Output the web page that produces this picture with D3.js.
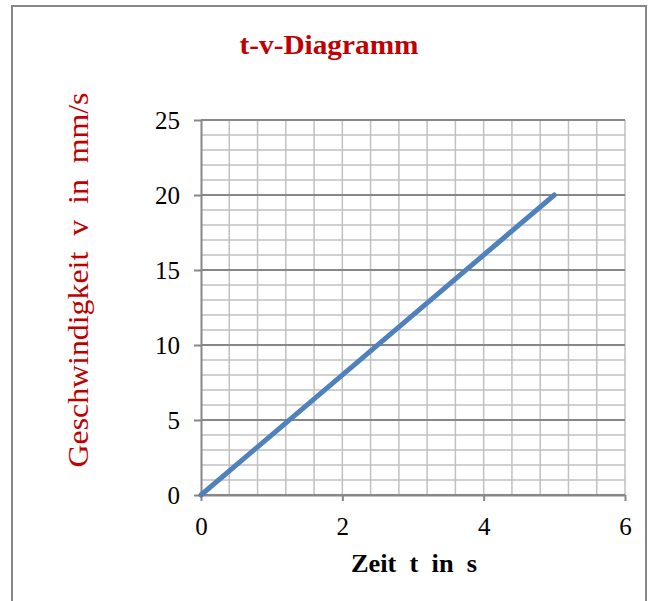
<!DOCTYPE html>
<html>
<head>
<meta charset="utf-8">
<script src="https://cdn.jsdelivr.net/npm/d3@7"></script>
<style>
  body { margin: 0; background: #fff; }
  svg text { font-family: "Times New Roman", "Liberation Serif", serif; }
</style>
</head>
<body>
<div class="canvas"></div>
<script>
// DATA ---------------------------------------------------------------------------
const zeit = [0, 5];                        // t in s
const geschwindigkeit = [0, 20];            // v in mm/s
const xTicks = [0, 2, 4, 6];
const yTicks = [0, 5, 10, 15, 20, 25];
const xMinorStep = 0.4;
const yMinorStep = 1;

// SET UP -------------------------------------------------------------------------
const svg = d3.select('.canvas')
    .append('svg')
        .attr('width', 654)
        .attr('height', 601);

// outer chart frame
svg.append('rect')
    .attr('x', 12)
    .attr('y', 6)
    .attr('width', 634)
    .attr('height', 610)
    .attr('fill', 'none')
    .attr('stroke', '#878787')
    .attr('stroke-width', 2);

const x = d3.scaleLinear().domain([0, 6]).range([201, 625]);
const y = d3.scaleLinear().domain([0, 25]).range([495, 120]);

const grid = svg.append('g');

// minor gridlines
const xMinor = d3.range(0, 6 + 1e-9, xMinorStep).slice(1);
const yMinor = d3.range(0, 25 + 1e-9, yMinorStep).filter(d => d % 5 !== 0);

grid.selectAll('.vminor')
    .data(xMinor)
    .enter().append('line')
        .attr('x1', d => x(d)).attr('x2', d => x(d))
        .attr('y1', y(0)).attr('y2', y(25))
        .attr('stroke', '#c0c0c0')
        .attr('stroke-width', 1.5);

grid.selectAll('.hminor')
    .data(yMinor)
    .enter().append('line')
        .attr('x1', x(0)).attr('x2', x(6))
        .attr('y1', d => y(d)).attr('y2', d => y(d))
        .attr('stroke', '#c0c0c0')
        .attr('stroke-width', 1.5);

// major horizontal gridlines
grid.selectAll('.hmajor')
    .data(yTicks)
    .enter().append('line')
        .attr('x1', x(0)).attr('x2', x(6))
        .attr('y1', d => y(d)).attr('y2', d => y(d))
        .attr('stroke', '#878787')
        .attr('stroke-width', 2);

// AXES ---------------------------------------------------------------------------
const yAxis = d3.axisLeft(y).tickValues(yTicks).tickFormat(d3.format('d'))
    .tickSize(7).tickPadding(14).tickSizeOuter(0);
const xAxis = d3.axisBottom(x).tickValues(xTicks).tickFormat(d3.format('d'))
    .tickSize(6).tickPadding(16).tickSizeOuter(0);

const yAxisGroup = svg.append('g')
    .attr('transform', `translate(${x(0)}, 0)`)
    .call(yAxis);
const xAxisGroup = svg.append('g')
    .attr('transform', `translate(0, ${y(0)})`)
    .call(xAxis);

[xAxisGroup, yAxisGroup].forEach(g => {
    g.select('.domain').attr('stroke', '#878787').attr('stroke-width', 2);
    g.selectAll('.tick line').attr('stroke', '#878787').attr('stroke-width', 2);
    g.selectAll('text')
        .attr('fill', '#000')
        .style('font-size', '25px')
        .style('font-family', '"Times New Roman", "Liberation Serif", serif');
});

// LINE ---------------------------------------------------------------------------
const points = zeit.map((t, i) => ({ t: t, v: geschwindigkeit[i] }));
const line = d3.line().x(d => x(d.t)).y(d => y(d.v));

svg.append('path')
    .datum(points)
    .attr('d', line)
    .attr('fill', 'none')
    .attr('stroke', '#4f81bd')
    .attr('stroke-width', 5)
    .attr('stroke-linecap', 'round');

// TITLES -------------------------------------------------------------------------
svg.append('text')
    .attr('text-anchor', 'middle')
    .attr('x', 329)
    .attr('y', 54)
    .attr('textLength', 179)
    .attr('lengthAdjust', 'spacingAndGlyphs')
    .text('t-v-Diagramm')
    .style('font-size', '27px')
    .style('font-weight', 700)
    .attr('fill', '#c00000');

svg.append('text')
    .attr('text-anchor', 'middle')
    .attr('x', 414)
    .attr('y', 572)
    .attr('textLength', 126)
    .attr('lengthAdjust', 'spacingAndGlyphs')
    .text('Zeit  t  in  s')
    .style('font-size', '26px')
    .style('font-weight', 700)
    .style('white-space', 'pre')
    .attr('fill', '#000');

svg.append('text')
    .attr('text-anchor', 'middle')
    .attr('transform', 'translate(88, 280) rotate(-90)')
    .attr('textLength', 375)
    .attr('lengthAdjust', 'spacingAndGlyphs')
    .text('Geschwindigkeit  v  in  mm/s')
    .style('font-size', '30px')
    .style('white-space', 'pre')
    .attr('fill', '#c00000');
</script>
</body>
</html>
